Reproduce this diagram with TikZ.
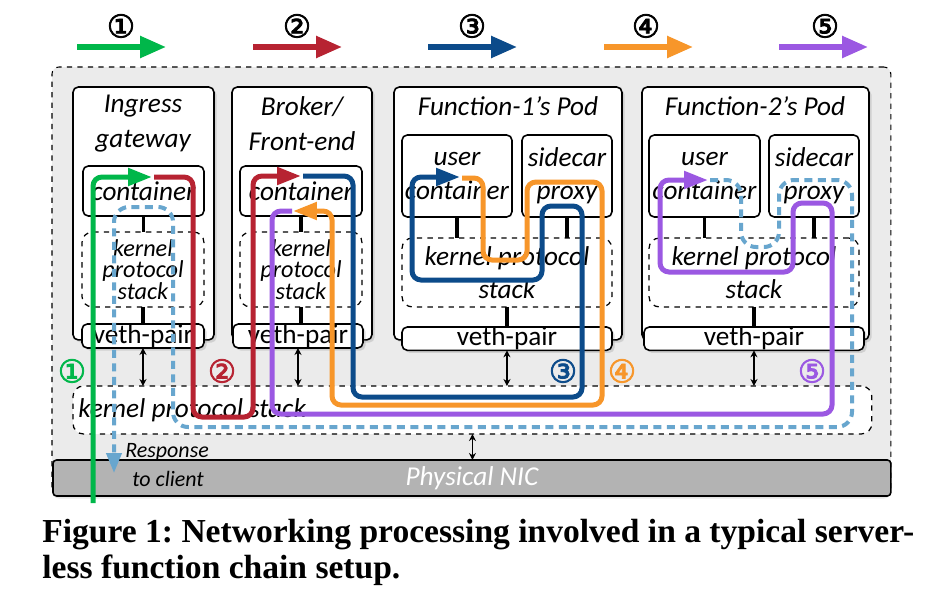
\documentclass[tikz,border=0pt]{standalone}
\usepackage{fontspec}
\setsansfont{Carlito}
\newfontfamily\capfont{Liberation Serif}
\newfontfamily\circfont[BoldFont=DejaVu Sans, BoldFeatures={FakeBold=2.5}]{DejaVu Sans}
\usetikzlibrary{positioning,arrows.meta,shadows}
\frenchspacing

\definecolor{flowgreen}{RGB}{0,183,74}
\definecolor{flowred}{RGB}{183,35,50}
\definecolor{flowblue}{RGB}{12,75,138}
\definecolor{floworange}{RGB}{247,150,42}
\definecolor{flowpurple}{RGB}{155,88,226}
\definecolor{flowresp}{RGB}{104,166,206}
\definecolor{hostgray}{RGB}{235,235,235}
\definecolor{nicgray}{RGB}{179,179,179}

\begin{document}
\begin{tikzpicture}[x=0.02cm, y=-0.02cm, font=\sffamily]

% ---- Styles ----
\tikzset{
  hostbox/.style={draw=black, dashed, line width=0.6pt, fill=hostgray, rounded corners=4pt,
    anchor=north west, inner sep=0pt, outer sep=0pt,
    drop shadow={opacity=0.2, shadow xshift=0pt, shadow yshift=-1.5pt}},
  podbox/.style={draw=black, line width=0.9pt, fill=white, rounded corners=3pt,
    anchor=north west, inner sep=0pt, outer sep=0pt},
  shadowed/.style={drop shadow={opacity=0.25, shadow xshift=1.5pt, shadow yshift=-1.5pt}},
  ctrbox/.style={podbox, align=center, font=\sffamily\itshape\fontsize{15.5}{16}\selectfont},
  kernbox/.style={draw=black, dashed, line width=0.7pt, fill=white, rounded corners=6pt,
    anchor=north west, inner sep=0pt, outer sep=0pt, align=center},
  vethbox/.style={podbox, shadowed, font=\sffamily\fontsize{15.5}{16}\selectfont},
  podtitle/.style={align=center, font=\sffamily\itshape\fontsize{15.5}{20}\selectfont},
  link/.style={line width=2.2pt},
  dbl/.style={{Stealth[length=4pt,width=4pt]}-{Stealth[length=4pt,width=4pt]}, line width=0.7pt},
  legend/.style={line width=0.11cm, -{Triangle[length=0.52cm,width=0.42cm]}},
  circnum/.style={font=\circfont\bfseries\fontsize{18}{18}\selectfont, inner sep=0pt},
  flow/.style={line width=0.1cm, rounded corners=0.18cm, -{Triangle[length=0.48cm,width=0.34cm]}},
  respflow/.style={line width=0.08cm, rounded corners=0.3cm, color=flowresp,
    dash pattern=on 0.16cm off 0.11cm, -{Triangle[length=0.4cm,width=0.3cm]}},
  caption/.style={anchor=base west, inner sep=0pt, font=\capfont\bfseries\fontsize{19.1}{22}\selectfont}
}

\useasboundingbox (0,0) rectangle (940,612);

% =========================================================
% HOST, NIC AND HOST KERNEL STACK
% =========================================================
\node[hostbox, minimum width=16.78cm, minimum height=8.58cm] (host) at (52,67) {};
\node[podbox, fill=nicgray, rounded corners=2pt, minimum width=16.76cm, minimum height=0.72cm] (nic) at (53,460) {};
\node[text=white, font=\sffamily\itshape\fontsize{15.5}{16}\selectfont] (niclbl) at (nic.center) {Physical NIC};
\node[kernbox, minimum width=15.98cm, minimum height=0.96cm] (ks) at (73,386) {};
\node[anchor=west, inner sep=0pt, font=\sffamily\itshape\fontsize{15.5}{16}\selectfont] (kslbl) at (78,410) {kernel protocol stack};

% =========================================================
% PODS
% =========================================================
\node[podbox, shadowed, minimum width=2.82cm, minimum height=5.06cm] (p1) at (73,87) {};
\node[podbox, shadowed, minimum width=2.80cm, minimum height=5.06cm] (p2) at (232,87) {};
\node[podbox, shadowed, minimum width=4.56cm, minimum height=5.06cm] (p3) at (394,87) {};
\node[podbox, shadowed, minimum width=4.54cm, minimum height=5.06cm] (p4) at (642,87) {};

\node[podtitle] (t1) at (143,124) {Ingress\\gateway};
\node[podtitle] (t2) at (302,124) {Broker/\\Front-end};
\node[podtitle] (t3) at (508,106) {Function-1’s Pod};
\node[podtitle] (t4) at (755,106) {Function-2’s Pod};

% ingress gateway and broker
\node[ctrbox, minimum width=2.42cm, minimum height=1.0cm] (c1) at (83,166) {container};
\node[ctrbox, minimum width=2.44cm, minimum height=1.0cm] (c2) at (240,166) {container};
\node[kernbox, minimum width=2.44cm, minimum height=1.5cm,
  font=\sffamily\itshape\fontsize{13.8}{12.4}\selectfont] (k1) at (82,232) {kernel\\protocol\\stack};
\node[kernbox, minimum width=2.44cm, minimum height=1.5cm,
  font=\sffamily\itshape\fontsize{13.8}{12.4}\selectfont] (k2) at (240,232) {kernel\\protocol\\stack};
\node[vethbox, minimum width=2.44cm, minimum height=0.48cm] (v1) at (82,324) {veth-pair};
\node[vethbox, minimum width=2.60cm, minimum height=0.48cm] (v2) at (233,324) {veth-pair};

% function pods
\node[ctrbox, minimum width=2.20cm, minimum height=1.64cm, font=\sffamily\itshape\fontsize{15.5}{19}\selectfont] (uc3) at (402,135) {user\\container};
\node[ctrbox, minimum width=1.80cm, minimum height=1.64cm, font=\sffamily\itshape\fontsize{15.5}{19}\selectfont] (sp3) at (522,135) {sidecar\\proxy};
\node[kernbox, minimum width=4.20cm, minimum height=1.38cm,
  font=\sffamily\itshape\fontsize{15.5}{19}\selectfont] (k3) at (402,238) {kernel protocol\\stack};
\node[vethbox, minimum width=4.20cm, minimum height=0.46cm] (v3) at (402,327) {veth-pair};

\node[ctrbox, minimum width=2.22cm, minimum height=1.64cm, font=\sffamily\itshape\fontsize{15.5}{19}\selectfont] (uc4) at (649,135) {user\\container};
\node[ctrbox, minimum width=1.80cm, minimum height=1.64cm, font=\sffamily\itshape\fontsize{15.5}{19}\selectfont] (sp4) at (769,135) {sidecar\\proxy};
\node[kernbox, minimum width=4.20cm, minimum height=1.38cm,
  font=\sffamily\itshape\fontsize{15.5}{19}\selectfont] (k4) at (649,238) {kernel protocol\\stack};
\node[vethbox, minimum width=4.40cm, minimum height=0.46cm] (v4) at (644,327) {veth-pair};

% =========================================================
% BLACK LINKS
% =========================================================
\draw[link] (c1.south) -- (c1.south |- k1.north);
\draw[link] (k1.south) -- (k1.south |- v1.north);
\draw[link] (c2.south) -- (c2.south |- k2.north);
\draw[link] (k2.south) -- (k2.south |- v2.north);
\draw[link] (uc3.south) -- (uc3.south |- k3.north);
\draw[link] (sp3.south) -- (sp3.south |- k3.north);
\draw[link] (k3.south) -- (k3.south |- v3.north);
\draw[link] (uc4.south) -- (uc4.south |- k4.north);
\draw[link] (sp4.south) -- (sp4.south |- k4.north);
\draw[link] (k4.south) -- (k4.south |- v4.north);

\draw[dbl] (v1.south) -- (v1.south |- ks.north);
\draw[dbl] (v2.south) -- (v2.south |- ks.north);
\draw[dbl] (v3.south) -- (v3.south |- ks.north);
\draw[dbl] (v4.south) -- (v4.south |- ks.north);
\draw[dbl] (ks.south) -- (ks.south |- nic.north);

% =========================================================
% LEGEND
% =========================================================
\coordinate (l1a) at (77,47);  \coordinate (l1b) at (166,47);
\coordinate (l2a) at (253,47); \coordinate (l2b) at (342,47);
\coordinate (l3a) at (428,47); \coordinate (l3b) at (517,47);
\coordinate (l4a) at (604,47); \coordinate (l4b) at (693,47);
\coordinate (l5a) at (779,47); \coordinate (l5b) at (868,47);
\draw[legend, flowgreen]  (l1a) -- (l1b);
\draw[legend, flowred]    (l2a) -- (l2b);
\draw[legend, flowblue]   (l3a) -- (l3b);
\draw[legend, floworange] (l4a) -- (l4b);
\draw[legend, flowpurple] (l5a) -- (l5b);
\node[circnum] (n1) at (121,26) {①};
\node[circnum] (n2) at (297,26) {②};
\node[circnum] (n3) at (472,26) {③};
\node[circnum] (n4) at (646,26) {④};
\node[circnum] (n5) at (825,26) {⑤};

% step numbers along the paths
\node[circnum, text=flowgreen]  (m1) at (72,371)  {①};
\node[circnum, text=flowred]    (m2) at (222,371) {②};
\node[circnum, text=flowblue]   (m3) at (563,371) {③};
\node[circnum, text=floworange] (m4) at (622,371) {④};
\node[circnum, text=flowpurple] (m5) at (812,371) {⑤};

\node[anchor=west, inner sep=0pt, font=\sffamily\itshape\fontsize{12.5}{14}\selectfont] (resp1) at (125,452) {Response};
\node[anchor=west, inner sep=0pt, font=\sffamily\itshape\fontsize{12.5}{14}\selectfont] (resp2) at (132,479) {to client};

% =========================================================
% FLOWS
% =========================================================
\draw[flow, flowgreen] (93,503) -- (93,177) -- (152,177);
\draw[flow, flowred] (154,177) -- (193,177) -- (193,417) -- (253,417) -- (253,176) -- (301,176);
\draw[flow, flowblue] (303,176) -- (353,176) -- (353,397) -- (582,397) -- (582,206) -- (542,206)
  -- (542,280) -- (412,280) -- (412,177) -- (460,177);
\draw[flow, floworange] (462,178) -- (483,178) -- (483,260) -- (527,260) -- (527,182) -- (602,182)
  -- (602,405) -- (332,405) -- (332,211) -- (293,211);
\draw[flow, flowpurple] (292,211) -- (272,211) -- (272,414) -- (832,414) -- (832,203) -- (793,203)
  -- (793,272) -- (660,272) -- (660,180) -- (708,180);
\draw[respflow] (710,180) -- (741,180) -- (741,247) -- (779,247) -- (779,180) -- (852,180)
  -- (852,427) -- (173,427) -- (173,207) -- (114,207) -- (114,473);

% =========================================================
% CAPTION
% =========================================================
\node[caption] (cap1) at (42,542) {Figure 1: Networking processing involved in a typical server-};
\node[caption] (cap2) at (42,578) {less function chain setup.};

\end{tikzpicture}
\end{document}
